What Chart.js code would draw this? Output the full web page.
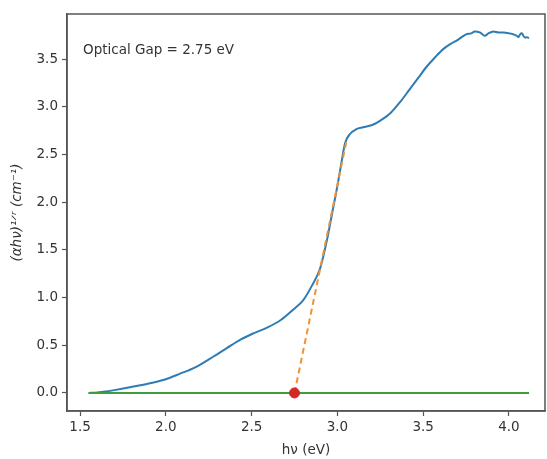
<!DOCTYPE html>
<html>
<head>
<meta charset="utf-8">
<script src="https://cdn.jsdelivr.net/npm/chart.js@4/dist/chart.umd.min.js"></script>
<style>
  html, body { margin: 0; padding: 0; background: #ffffff; }
  #wrap { width: 547px; height: 459px; }
</style>
</head>
<body>
<div id="wrap"><canvas id="c" width="547" height="459"></canvas></div>
<script>
// ---- data ----
const photonEnergy = [1.55, 1.60, 1.65, 1.70, 1.79, 1.89, 1.99, 2.08, 2.18, 2.28, 2.355, 2.43, 2.51, 2.59, 2.67, 2.74, 2.80, 2.85, 2.90, 2.94, 2.97, 3.00, 3.025, 3.045, 3.073, 3.11, 3.15, 3.21, 3.25, 3.31, 3.37, 3.42, 3.47, 3.52, 3.57, 3.62, 3.66, 3.70, 3.75, 3.78, 3.80, 3.83, 3.86, 3.88, 3.91, 3.94, 3.97, 4.00, 4.025, 4.045, 4.055, 4.065, 4.075, 4.085, 4.095, 4.105, 4.117];
const taucValues   = [0.00, 0.005, 0.015, 0.03, 0.06, 0.094, 0.138, 0.20, 0.277, 0.385, 0.47, 0.555, 0.625, 0.685, 0.765, 0.87, 0.97, 1.12, 1.31, 1.61, 1.89, 2.17, 2.43, 2.62, 2.715, 2.765, 2.785, 2.815, 2.855, 2.935, 3.06, 3.18, 3.30, 3.42, 3.52, 3.61, 3.66, 3.70, 3.76, 3.77, 3.79, 3.78, 3.745, 3.77, 3.79, 3.78, 3.78, 3.77, 3.76, 3.745, 3.73, 3.76, 3.77, 3.74, 3.725, 3.73, 3.72];
const tangentX = [2.75, 3.055];
const tangentY = [0.0, 2.66];
const baselineX = [1.55, 4.117];
const baselineY = [0.0, 0.0];
const gapX = [2.75];
const gapY = [0.0];
const xTicks = [1.5, 2.0, 2.5, 3.0, 3.5, 4.0];
const yTicks = [0.0, 0.5, 1.0, 1.5, 2.0, 2.5, 3.0, 3.5];
const annotationText = "Optical Gap = 2.75 eV";
const xTitle = "h\u03BD (eV)";
const yTitle = "(\u03B1h\u03BD)\u00B9\u141F\u02B3 (cm\u207B\u00B9)";

const pairs = (xs, ys) => xs.map((x, i) => ({ x: x, y: ys[i] }));

const FONT = "'DejaVu Sans', sans-serif";
const TXT = '#333333';
const SPINE = '#555555';

const frame = {
  id: 'frame',
  afterDraw(chart) {
    const { ctx, chartArea: a } = chart;
    ctx.save();
    ctx.strokeStyle = SPINE;
    ctx.lineWidth = 1.5;
    ctx.strokeRect(a.left, a.top, a.right - a.left, a.bottom - a.top);
    ctx.fillStyle = TXT;
    ctx.font = "13.5px " + FONT;
    ctx.textAlign = 'left';
    ctx.textBaseline = 'middle';
    ctx.fillText(annotationText, a.left + 16, a.top + 36);
    ctx.restore();
  }
};

const axisCommon = {
  grid: { display: true, drawOnChartArea: false, drawTicks: true, tickLength: 5, tickColor: SPINE, tickWidth: 1.2 },
  border: { display: true, color: SPINE, width: 1.5 },
};

new Chart(document.getElementById('c'), {
  type: 'scatter',
  data: {
    datasets: [
      { label: 'tauc', data: pairs(photonEnergy, taucValues), showLine: true, pointRadius: 0,
        borderColor: '#2f7bb3', borderWidth: 2, cubicInterpolationMode: 'monotone', order: 4 },
      { label: 'tangent', data: pairs(tangentX, tangentY), showLine: true, pointRadius: 0,
        borderColor: '#f5902e', borderWidth: 2, borderDash: [6, 4], order: 3 },
      { label: 'baseline', data: pairs(baselineX, baselineY), showLine: true, pointRadius: 0,
        borderColor: '#3c9f3c', borderWidth: 2, order: 2 },
      { label: 'gap', data: pairs(gapX, gapY), showLine: false, pointRadius: 5,
        pointBackgroundColor: '#d62728', pointBorderColor: '#d62728', order: 1 }
    ]
  },
  options: {
    responsive: false,
    animation: false,
    devicePixelRatio: 1,
    layout: { autoPadding: false, padding: { top: 14, right: 2, left: 0, bottom: 0 } },
    plugins: { legend: { display: false }, tooltip: { enabled: false } },
    scales: {
      x: Object.assign({}, axisCommon, {
        type: 'linear', min: 1.424, max: 4.21,
        afterBuildTicks: s => { s.ticks = xTicks.map(v => ({ value: v })); },
        afterFit: s => { s.height = 48; s.paddingRight = 0; s.paddingLeft = 0; },
        ticks: { color: TXT, font: { family: FONT, size: 13.5 }, padding: 3, callback: v => v.toFixed(1), maxRotation: 0 },
        title: { display: true, text: xTitle, color: TXT, font: { family: FONT, size: 13.5 }, padding: { top: 0, bottom: 0 } }
      }),
      y: Object.assign({}, axisCommon, {
        type: 'linear', min: -0.189, max: 3.973,
        afterBuildTicks: s => { s.ticks = yTicks.map(v => ({ value: v })); },
        afterFit: s => { s.width = 67; s.paddingTop = 0; s.paddingBottom = 0; },
        ticks: { color: TXT, font: { family: FONT, size: 13.5 }, padding: 4, callback: v => v.toFixed(1) },
        title: { display: true, text: yTitle, color: TXT, font: { family: FONT, size: 13.5, style: 'italic' }, padding: { top: 9, bottom: 0 } }
      })
    }
  },
  plugins: [frame]
});
</script>
</body>
</html>
